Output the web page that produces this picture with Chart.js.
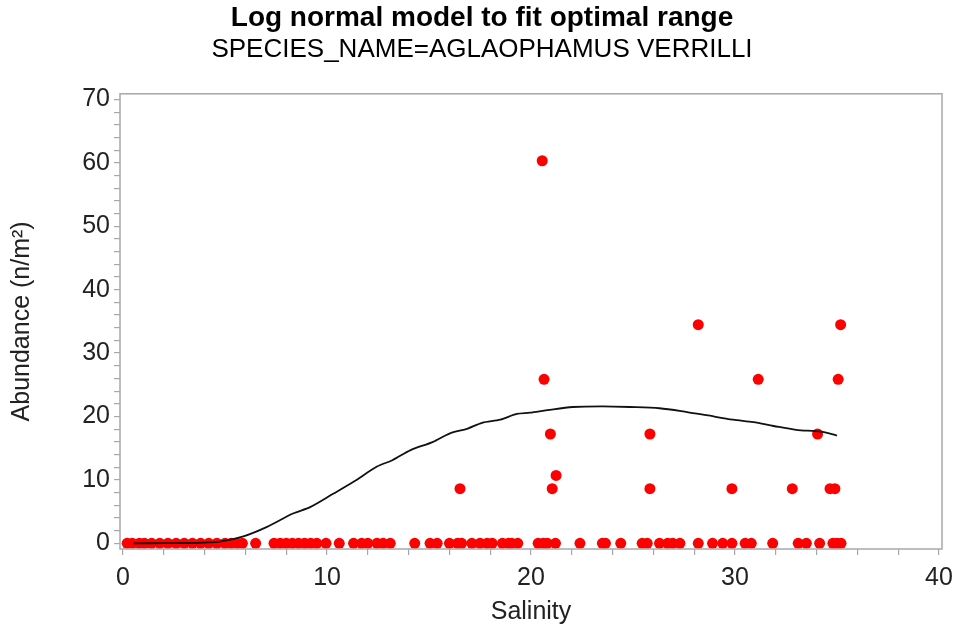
<!DOCTYPE html>
<html>
<head>
<meta charset="utf-8">
<script src="https://cdn.jsdelivr.net/npm/chart.js@4/dist/chart.umd.min.js"></script>
<style>
  html, body { margin: 0; padding: 0; background: #fff; }
  #wrap { width: 954px; height: 634px; }
</style>
</head>
<body>
<div id="wrap"><canvas id="fitChart" width="954" height="634"></canvas></div>
<script>
    // Observations with zero abundance (salinity only)
    const zeroSalinity = [
      0.2, 0.45, 0.8, 1.05, 1.4, 1.8, 2.2, 2.6, 3.0, 3.4, 3.8, 4.2, 4.6, 5.0, 5.3, 5.6, 5.85,
      6.5, 7.4, 7.7, 8.0, 8.3, 8.6, 8.9, 9.2, 9.5, 9.95,
      10.6, 11.3, 11.7, 12.0, 12.45, 12.75, 13.1, 14.3, 15.05, 15.4,
      16.0, 16.4, 16.6, 17.1, 17.5, 17.85, 18.1, 18.6, 18.9, 19.05, 19.35,
      20.35, 20.6, 20.8, 21.2, 22.4, 23.5, 23.65, 24.4, 25.45, 25.7,
      26.3, 26.7, 26.95, 27.3, 28.2, 28.9, 29.4, 29.85, 30.5, 30.8,
      31.85, 33.1, 33.5, 34.15, 34.8, 35.0, 35.2
    ];

    // Observations with non-zero abundance
    const posSalinity  = [20.55, 20.64, 20.95, 21.23, 21.04, 16.52, 25.83, 25.83, 28.2, 29.85, 31.14, 32.81, 34.05, 34.66, 34.9, 35.18, 35.06];
    const posAbundance = [60.34, 25.86, 17.24, 10.7, 8.62, 8.62, 17.24, 8.62, 34.48, 8.62, 25.86, 8.62, 17.24, 8.62, 8.62, 34.48, 25.86];

    // Fitted log normal curve
    const fitSalinity  = [0.5, 2, 3, 4, 4.75, 5.9, 7.06, 8.33, 9.17, 10.3, 11.3, 12.45, 13.2, 14.1, 15.2, 16.0, 16.9, 17.6, 18.5, 19.3, 19.95, 20.8, 22.05, 23.5, 24.85, 26.3, 27.65, 28.6, 29.9, 30.9, 31.9, 33.0, 34.2, 35.0];
    const fitAbundance = [0.0, 0.02, 0.05, 0.12, 0.25, 1.1, 2.6, 4.7, 5.7, 7.8, 9.7, 12.1, 13.1, 14.7, 16.0, 17.3, 18.1, 19.0, 19.5, 20.4, 20.6, 21.0, 21.5, 21.6, 21.5, 21.3, 20.7, 20.2, 19.5, 19.1, 18.5, 17.9, 17.6, 17.0];

    const xTickMajor = [0, 10, 20, 30, 40];
    const yTickMajor = [0, 10, 20, 30, 40, 50, 60, 70];

    const FONT = "'Liberation Sans', Arial, sans-serif";
    const AXIS_GRAY = '#a8a8a8';

    // Frame around plot area
    const framePlugin = {
      id: 'frame',
      afterDraw(chart) {
        const a = chart.chartArea;
        const ctx = chart.ctx;
        ctx.save();
        ctx.strokeStyle = AXIS_GRAY;
        ctx.lineWidth = 1.5;
        ctx.strokeRect(a.left, a.top, a.right - a.left, a.bottom - a.top);
        ctx.restore();
      }
    };

    const ctx = document.getElementById('fitChart').getContext('2d');
    const fitChart = new Chart(ctx, {
      type: 'scatter',
      data: {
        datasets: [
          {
            label: 'fit',
            type: 'line',
            data: fitSalinity.map((x, i) => ({ x: x, y: fitAbundance[i] })),
            borderColor: '#111',
            borderWidth: 1.8,
            pointRadius: 0,
            tension: 0.3,
            fill: false,
            order: 0
          },
          {
            label: 'zero',
            data: zeroSalinity.map(x => ({ x: x, y: 0 })),
            backgroundColor: '#ff0000',
            borderWidth: 0,
            pointRadius: 5.5,
            order: 1
          },
          {
            label: 'abundance',
            data: posSalinity.map((x, i) => ({ x: x, y: posAbundance[i] })),
            backgroundColor: '#ff0000',
            borderWidth: 0,
            pointRadius: 5.5,
            order: 1
          }
        ]
      },
      options: {
        responsive: false,
        animation: false,
        layout: { padding: { top: 0, right: 12, bottom: 0, left: 22 } },
        plugins: {
          legend: { display: false },
          tooltip: { enabled: false },
          title: {
            display: true,
            text: 'Log normal model to fit optimal range',
            color: '#000',
            font: { family: FONT, size: 28, weight: 'bold' },
            padding: { top: 1, bottom: 0 }
          },
          subtitle: {
            display: true,
            text: 'SPECIES_NAME=AGLAOPHAMUS VERRILLI',
            color: '#000',
            font: { family: FONT, size: 26 },
            padding: { top: 0, bottom: 28 }
          }
        },
        scales: {
          x: {
            type: 'linear',
            min: -0.15,
            max: 40.15,
            afterFit(scale) {
              scale.height = 85;
              scale.paddingLeft = 0;
              scale.paddingRight = 0;
            },
            border: { display: false },
            grid: { drawOnChartArea: false, color: AXIS_GRAY, tickLength: 6, lineWidth: 1.2 },
            ticks: {
              stepSize: 2,
              includeBounds: false,
              autoSkip: false,
              maxRotation: 0,
              padding: 8,
              color: '#222',
              font: { family: FONT, size: 25 },
              callback: v => xTickMajor.includes(v) ? String(v) : ''
            },
            title: {
              display: true,
              text: 'Salinity',
              color: '#222',
              font: { family: FONT, size: 25 },
              padding: { top: 0, bottom: 7 }
            }
          },
          y: {
            type: 'linear',
            min: -0.9,
            max: 70.9,
            afterFit(scale) { scale.width = 98; },
            border: { display: false },
            grid: { drawOnChartArea: false, color: AXIS_GRAY, tickLength: 6, lineWidth: 1.2 },
            ticks: {
              stepSize: 2,
              includeBounds: false,
              autoSkip: false,
              padding: 4,
              color: '#222',
              font: { family: FONT, size: 25 },
              callback: v => yTickMajor.includes(v) ? String(v) : ''
            },
            title: {
              display: true,
              text: 'Abundance (n/m²)',
              color: '#222',
              font: { family: FONT, size: 25 },
              padding: { top: -15, bottom: 0 }
            }
          }
        }
      },
      plugins: [framePlugin]
    });
</script>
</body>
</html>
